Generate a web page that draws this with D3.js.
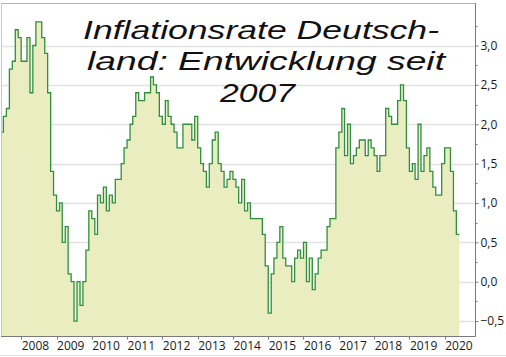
<!DOCTYPE html>
<html>
<head>
<meta charset="utf-8">
<script src="https://cdn.jsdelivr.net/npm/d3@7/dist/d3.min.js"></script>
<style>
  html, body { margin: 0; padding: 0; background: #fff; }
  svg { display: block; }
</style>
</head>
<body>
<script>
// ---------------- data ----------------
const firstMonth = "2007-06";            // first monthly value shown
const titleLines = ["Inflationsrate Deutsch-", "land: Entwicklung seit", "2007"];
const yearTicks = [2008, 2009, 2010, 2011, 2012, 2013, 2014, 2015, 2016, 2017, 2018, 2019, 2020];
const yTicks = [-0.5, 0.0, 0.5, 1.0, 1.5, 2.0, 2.5, 3.0];
// monthly inflation rate (%), Jun 2007 .. May 2020
const rates2007 = [1.9, 2.1, 2.2, 2.7, 2.8, 3.2, 3.1];
const rates2008 = [2.8, 2.8, 3.1, 2.4, 3.0, 3.3, 3.3, 3.1, 2.9, 2.4, 1.4, 1.1];
const rates2009 = [0.9, 1.0, 0.5, 0.7, 0.1, 0.0, -0.5, 0.0, -0.3, 0.0, 0.4, 0.9];
const rates2010 = [0.8, 0.6, 1.1, 1.0, 1.2, 0.9, 1.1, 1.0, 1.3, 1.3, 1.5, 1.7];
const rates2011 = [1.8, 2.0, 2.1, 2.4, 2.3, 2.3, 2.4, 2.4, 2.6, 2.5, 2.4, 2.1];
const rates2012 = [2.0, 2.3, 2.1, 2.0, 1.9, 1.7, 1.7, 2.0, 2.0, 2.0, 1.8, 2.1];
const rates2013 = [1.7, 1.5, 1.4, 1.2, 1.5, 1.8, 1.9, 1.5, 1.4, 1.2, 1.3, 1.4];
const rates2014 = [1.3, 1.2, 1.0, 1.3, 0.9, 1.0, 0.8, 0.8, 0.8, 0.8, 0.6, 0.2];
const rates2015 = [-0.4, 0.1, 0.3, 0.5, 0.7, 0.3, 0.2, 0.2, 0.0, 0.3, 0.4, 0.3];
const rates2016 = [0.5, 0.0, 0.3, -0.1, 0.1, 0.3, 0.4, 0.4, 0.7, 0.8, 0.8, 1.7];
const rates2017 = [1.9, 2.2, 1.6, 2.0, 1.5, 1.6, 1.7, 1.8, 1.8, 1.6, 1.8, 1.7];
const rates2018 = [1.6, 1.4, 1.6, 1.6, 2.2, 2.1, 2.0, 2.0, 2.3, 2.5, 2.3, 1.7];
const rates2019 = [1.4, 1.5, 1.3, 2.0, 1.4, 1.6, 1.7, 1.4, 1.2, 1.1, 1.1, 1.5];
const rates2020 = [1.7, 1.7, 1.4, 0.9, 0.6];

const rates = [].concat(rates2007, rates2008, rates2009, rates2010, rates2011, rates2012,
  rates2013, rates2014, rates2015, rates2016, rates2017, rates2018, rates2019, rates2020);

// ---------------- layout ----------------
const W = 506, H = 357;
const plot = { left: 1, right: 475, top: 3, bottom: 336 };

const start = d3.timeParse("%Y-%m")(firstMonth);
const series = rates.map((v, i) => ({ date: d3.timeMonth.offset(start, i), value: v }));
// step line: the last value holds until the end of its month
series.push({ date: d3.timeMonth.offset(start, rates.length), value: rates[rates.length - 1] });

const x = d3.scaleTime()
  .domain([start, new Date(2020, 10, 10)])
  .range([plot.left - 0.5, plot.right]);
const y = d3.scaleLinear()
  .domain([-0.69, 3.54])
  .range([plot.bottom, plot.top]);

const svg = d3.select("body").append("svg")
  .attr("width", W).attr("height", H);

svg.append("rect").attr("width", W).attr("height", H).attr("fill", "#fff");

svg.append("clipPath").attr("id", "clip")
  .append("rect")
  .attr("x", plot.left).attr("y", plot.top)
  .attr("width", plot.right - plot.left).attr("height", plot.bottom - plot.top);

// gridlines
svg.append("g").selectAll("line").data(yTicks).join("line")
  .attr("x1", plot.left).attr("x2", plot.right)
  .attr("y1", d => Math.round(y(d)) + 0.5).attr("y2", d => Math.round(y(d)) + 0.5)
  .attr("stroke", "#e2e2e2").attr("stroke-width", 1.3);

// area + line
const area = d3.area()
  .x(d => x(d.date)).y0(plot.bottom).y1(d => y(d.value))
  .curve(d3.curveStepAfter);
const line = d3.line()
  .x(d => x(d.date)).y(d => y(d.value))
  .curve(d3.curveStepAfter);

const g = svg.append("g").attr("clip-path", "url(#clip)");
g.append("path").datum(series).attr("d", area).attr("fill", "#eaedc0");
g.append("path").datum(series).attr("d", line)
  .attr("fill", "none").attr("stroke", "#2f8f3e").attr("stroke-width", 1.3)
  .attr("stroke-linejoin", "miter");

// frame
svg.append("line").attr("x1", plot.left).attr("x2", plot.right)
  .attr("y1", plot.top + 0.5).attr("y2", plot.top + 0.5).attr("stroke", "#b5b5b5");
svg.append("line").attr("x1", plot.left + 0.5).attr("x2", plot.left + 0.5)
  .attr("y1", plot.top).attr("y2", plot.bottom).attr("stroke", "#c8c8c8");
svg.append("line").attr("x1", 0).attr("x2", W)
  .attr("y1", H - 1.5).attr("y2", H - 1.5).attr("stroke", "#e0e0e0");

// right axis
const yAxis = d3.axisRight(y).tickValues(yTicks).tickSize(3).tickPadding(2)
  .tickFormat(d => d3.format(".1f")(d).replace(".", ","));
const ya = svg.append("g").attr("transform", `translate(${plot.right + 0.5},0)`).call(yAxis);
ya.select(".domain").attr("stroke", "#7a7a7a").attr("d", `M0,${plot.top}V${plot.bottom + 0.5}`);
ya.selectAll(".tick line").attr("stroke", "#7a7a7a");
ya.selectAll(".tick text").attr("font-family", "'Open Sans', 'DejaVu Sans', sans-serif")
  .attr("font-size", 12).attr("fill", "#1a1a1a");
const minor = d3.range(-0.75, 3.5, 0.5).filter(v => y(v) > plot.top && y(v) < plot.bottom);
ya.append("g").selectAll("line").data(minor).join("line")
  .attr("x1", 0).attr("x2", 2)
  .attr("y1", d => Math.round(y(d)) + 0.5).attr("y2", d => Math.round(y(d)) + 0.5)
  .attr("stroke", "#7a7a7a");

// bottom axis
const xa = svg.append("g").attr("transform", `translate(0,${plot.bottom + 0.5})`);
xa.append("line").attr("x1", plot.left).attr("x2", plot.right + 0.5)
  .attr("stroke", "#7a7a7a");
const yearDates = yearTicks.map(yr => new Date(yr, 0, 1));
xa.selectAll("line.t").data(yearDates).join("line").attr("class", "t")
  .attr("x1", d => Math.round(x(d)) + 0.5).attr("x2", d => Math.round(x(d)) + 0.5)
  .attr("y1", 0).attr("y2", 3).attr("stroke", "#7a7a7a");
xa.selectAll("text").data(yearDates).join("text")
  .attr("x", d => x(d) + 0.5).attr("y", 13.5)
  .attr("font-family", "'Open Sans', 'DejaVu Sans', sans-serif")
  .attr("font-size", 12).attr("fill", "#1a1a1a")
  .text(d => d3.timeFormat("%Y")(d));

// title
const titleSpec = [
  { x: 83, y: 39, w: 356 },
  { x: 87, y: 70, w: 358 },
  { x: 220, y: 102, w: 75 }
];
svg.append("g").selectAll("text").data(titleLines).join("text")
  .attr("x", (d, i) => titleSpec[i].x)
  .attr("y", (d, i) => titleSpec[i].y)
  .attr("textLength", (d, i) => titleSpec[i].w)
  .attr("lengthAdjust", "spacingAndGlyphs")
  .attr("font-family", "'Liberation Sans', Arial, sans-serif")
  .attr("font-style", "italic")
  .attr("font-size", 26)
  .attr("fill", "#111")
  .text(d => d);
</script>
</body>
</html>
